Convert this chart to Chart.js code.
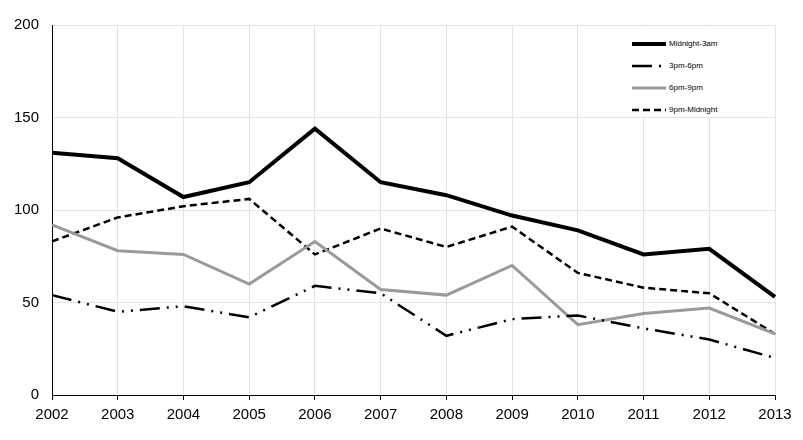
<!DOCTYPE html>
<html>
<head>
<meta charset="utf-8">
<script src="https://cdn.jsdelivr.net/npm/chart.js@4.4.1/dist/chart.umd.min.js"></script>
<style>
  html, body { margin: 0; padding: 0; background: #fff; }
  #wrap { position: relative; width: 803px; height: 440px; }
  #legend {
    position: absolute; left: 602px; top: 27px; width: 146px; height: 90px;
    background: #fff; font-family: "Liberation Sans", Arial, sans-serif; font-size: 8px; color: #000;
  }
  .item { position: absolute; left: 30px; height: 10px; }
  .item svg { position: absolute; left: 0; top: 0; }
  .item span { position: absolute; left: 37px; top: 0; line-height: 10px; white-space: nowrap; }
</style>
</head>
<body>
<div id="wrap">
  <canvas id="chart" width="803" height="440"></canvas>
  <div id="legend"></div>
</div>
<script>
const years = ['2002', '2003', '2004', '2005', '2006', '2007', '2008', '2009', '2010', '2011', '2012', '2013'];
const midnightTo3am = [131, 128, 107, 115, 144, 115, 108, 97, 89, 76, 79, 53];
const pm3To6 = [54, 45, 48, 42, 59, 55, 32, 41, 43, 36, 30, 20];
const pm6To9 = [92, 78, 76, 60, 83, 57, 54, 70, 38, 44, 47, 33];
const pm9ToMidnight = [83, 96, 102, 106, 76, 90, 80, 91, 66, 58, 55, 33];
const yTicks = [0, 50, 100, 150, 200];

const series = [
    { label: 'Midnight-3am', data: midnightTo3am, color: '#000000', width: 4, dash: [] },
    { label: '3pm-6pm', data: pm3To6, color: '#000000', width: 2.5, dash: [20, 7, 2, 7, 2, 7] },
    { label: '6pm-9pm', data: pm6To9, color: '#9a9a9a', width: 3, dash: [] },
    { label: '9pm-Midnight', data: pm9ToMidnight, color: '#000000', width: 2.5, dash: [7, 4] }
];

const font = { family: '"Liberation Sans", Arial, sans-serif', size: 15 };

new Chart(document.getElementById('chart'), {
    type: 'line',
    data: {
        labels: years,
        datasets: series.map(s => ({
            label: s.label,
            data: s.data,
            borderColor: s.color,
            borderWidth: s.width,
            borderDash: s.dash,
            borderCapStyle: 'butt',
            borderJoinStyle: 'miter',
            pointRadius: 0,
            tension: 0,
            fill: false
        }))
    },
    options: {
        responsive: false,
        animation: false,
        devicePixelRatio: 1,
        layout: { padding: { top: 25, right: 28, left: 0, bottom: 0 } },
        plugins: { legend: { display: false }, tooltip: { enabled: false } },
        scales: {
            x: {
                offset: false,
                grid: { color: '#e3e3e3', tickColor: '#000', tickLength: 5, drawTicks: true },
                border: { color: '#000', width: 1 },
                ticks: { color: '#000', font: font, padding: 6, maxRotation: 0 },
                afterFit: s => { s.height = 45; }
            },
            y: {
                min: 0,
                max: 200,
                afterBuildTicks: s => { s.ticks = yTicks.map(v => ({ value: v })); },
                grid: { color: '#e3e3e3', tickLength: 0 },
                border: { color: '#000', width: 1 },
                ticks: { color: '#000', font: font, padding: 13 },
                afterFit: s => { s.width = 52; }
            }
        }
    }
});

// legend
const legend = document.getElementById('legend');
series.forEach((s, i) => {
    const item = document.createElement('div');
    item.className = 'item';
    item.style.top = (12 + i * 22) + 'px';
    item.innerHTML =
        '<svg width="35" height="10"><line x1="0" y1="5" x2="34" y2="5" stroke="' + s.color +
        '" stroke-width="' + s.width + '" stroke-dasharray="' + (s.dash.length ? s.dash.join(' ') : 'none') +
        '"/></svg><span>' + s.label + '</span>';
    legend.appendChild(item);
});
</script>
</body>
</html>
